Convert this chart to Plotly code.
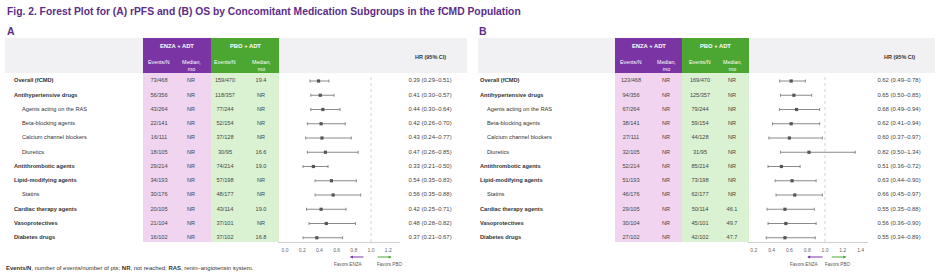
import plotly.graph_objects as go

W, H = 936, 274
FONT = "Liberation Sans"

# ---------------- data ----------------
labels = ["Overall (fCMD)", "Antihypertensive drugs", "Agents acting on the RAS",
          "Beta-blocking agents", "Calcium channel blockers", "Diuretics",
          "Antithrombotic agents", "Lipid-modifying agents", "Statins",
          "Cardiac therapy agents", "Vasoprotectives", "Diabetes drugs"]
indent = [0, 0, 1, 1, 1, 1, 0, 0, 1, 0, 0, 0]

a_enza_events = ["73/468", "56/356", "43/264", "22/141", "16/111", "18/105",
                 "29/214", "34/193", "30/176", "20/105", "21/104", "16/102"]
a_enza_median = ["NR"] * 12
a_pbo_events = ["159/470", "118/357", "77/244", "52/154", "37/128", "30/95",
                "74/214", "57/198", "48/177", "43/114", "37/101", "37/102"]
a_pbo_median = ["19.4", "NR", "NR", "NR", "NR", "16.6", "19.0", "NR", "NR",
                "19.0", "NR", "16.8"]
a_hr = [0.39, 0.41, 0.44, 0.42, 0.43, 0.47, 0.33, 0.54, 0.56, 0.42, 0.48, 0.37]
a_lo = [0.29, 0.30, 0.30, 0.26, 0.24, 0.26, 0.21, 0.35, 0.35, 0.25, 0.28, 0.21]
a_hi = [0.51, 0.57, 0.64, 0.70, 0.77, 0.85, 0.50, 0.83, 0.88, 0.71, 0.82, 0.67]

b_enza_events = ["123/468", "94/356", "67/264", "38/141", "27/111", "32/105",
                 "52/214", "51/193", "46/176", "29/105", "30/104", "27/102"]
b_enza_median = ["NR"] * 12
b_pbo_events = ["169/470", "125/357", "79/244", "59/154", "44/128", "31/95",
                "85/214", "73/198", "62/177", "50/114", "45/101", "42/102"]
b_pbo_median = ["NR", "NR", "NR", "NR", "NR", "NR", "NR", "NR", "NR",
                "46.1", "49.7", "47.7"]
b_hr = [0.62, 0.65, 0.68, 0.62, 0.60, 0.82, 0.51, 0.63, 0.66, 0.55, 0.56, 0.55]
b_lo = [0.49, 0.50, 0.49, 0.41, 0.37, 0.50, 0.36, 0.44, 0.45, 0.35, 0.36, 0.34]
b_hi = [0.78, 0.85, 0.94, 0.94, 0.97, 1.34, 0.72, 0.90, 0.97, 0.88, 0.90, 0.89]

a_ticks = [0.0, 0.2, 0.4, 0.6, 0.8, 1.0, 1.2]
b_ticks = [0.2, 0.4, 0.6, 0.8, 1.0, 1.2, 1.4]

# ---------------- layout helpers ----------------
ROW0, ROWH = 81.0, 14.25
rows = list(range(len(labels)))


def py(p):
    return 1 - p / H


def rowof(p):
    return (p - ROW0) / ROWH


PURPLE = "#7b34a3"
PINK = "#f1d4f0"
GREEN = "#4ca732"
LGREEN = "#daf2d2"
GRAY = "#f1f1f3"
TITLE = "#5c2d87"
TXT = "#333333"

fig = go.Figure()
shapes, annots = [], []


def note(text, xref, x, y, size, color, xanchor="center", **kw):
    d = dict(text=text, xref=xref, yref="paper", x=x, y=y, xanchor=xanchor,
             yanchor="middle", showarrow=False, borderpad=0,
             font=dict(size=size, color=color, family=FONT))
    d.update(kw)
    return d


panels = [
    dict(x0=5, x1=467, lab_x=14, ind_x=22, cols=[159, 191, 225, 261],
         e0=143, e1=211, p1=279, hr_x=430, axis="x", px0=278, px1=400,
         v0=285, unit=86.0, ticks=a_ticks, hr=a_hr, lo=a_lo, hi=a_hi,
         data=[a_enza_events, a_enza_median, a_pbo_events, a_pbo_median],
         letter="A", letter_x=6,
         enza_arrow=(0.755, 0.93), enza_txt=0.74, pbo_arrow=(1.06, 1.24), pbo_txt=1.22),
    dict(x0=478, x1=935, lab_x=480, ind_x=487, cols=[631, 666, 700, 732],
         e0=615, e1=682, p1=749, hr_x=899, axis="x2", px0=748, px1=868,
         v0=825 - 89.0, unit=89.0, ticks=b_ticks, hr=b_hr, lo=b_lo, hi=b_hi,
         data=[b_enza_events, b_enza_median, b_pbo_events, b_pbo_median],
         letter="B", letter_x=478,
         enza_arrow=(0.80, 0.99), enza_txt=0.77, pbo_arrow=(1.06, 1.24), pbo_txt=1.14),
]

for k, P in enumerate(panels):
    # background bands
    for (xa, xb, ya, yb, col) in [
        (P["x0"], P["x1"], 73, 38, GRAY),
        (P["e0"], P["e1"], 73, 38, PURPLE),
        (P["e1"], P["p1"], 73, 38, GREEN),
        (P["e0"], P["e1"], 242, 73, PINK),
        (P["e1"], P["p1"], 242, 73, LGREEN),
    ]:
        shapes.append(dict(type="rect", xref="x3", yref="paper", x0=xa, x1=xb,
                           y0=py(ya), y1=py(yb), fillcolor=col, line_width=0, layer="below"))

    # letters
    annots.append(note("<b>%s</b>" % P["letter"], "x3", P["letter_x"], py(31), 10.5, TITLE,
                       xanchor="left"))
    # headers
    annots.append(note("<b>ENZA + ADT</b>", "x3", (P["e0"] + P["e1"]) / 2, py(45.5), 5.8, "white"))
    annots.append(note("<b>PBO + ADT</b>", "x3", (P["e1"] + P["p1"]) / 2, py(45.5), 5.8, "white"))
    for j, cx in enumerate(P["cols"]):
        if j % 2 == 0:
            annots.append(note("Events/N", "x3", cx, py(62), 5.3, "white"))
        else:
            annots.append(note("Median,<br>mo", "x3", cx, py(65.8), 5.3, "white"))
    annots.append(note("<b>HR (95% CI)</b>", "x3", P["hr_x"], py(57), 5.5, TXT))

    # row labels
    fig.add_trace(go.Scatter(
        x=[P["lab_x"] if not indent[i] else P["ind_x"] for i in rows], y=rows,
        text=[("<b>%s</b>" % labels[i]) if not indent[i] else labels[i] for i in rows],
        mode="text", textposition="middle right", xaxis="x3", yaxis="y",
        textfont=dict(size=5.7, color=TXT, family=FONT), hoverinfo="skip", showlegend=False))
    # table cells
    for j, cx in enumerate(P["cols"]):
        fig.add_trace(go.Scatter(
            x=[cx] * len(rows), y=rows, text=P["data"][j], mode="text",
            textposition="middle center", xaxis="x3", yaxis="y",
            textfont=dict(size=5.6, color="#444444", family=FONT),
            hoverinfo="skip", showlegend=False))
    # HR text
    fig.add_trace(go.Scatter(
        x=[P["hr_x"]] * len(rows), y=rows,
        text=["%.2f (%.2f\u2013%.2f)" % (h, l, u) for h, l, u in zip(P["hr"], P["lo"], P["hi"])],
        mode="text", textposition="middle center", xaxis="x3", yaxis="y",
        textfont=dict(size=5.9, color="#444444", family=FONT),
        hoverinfo="skip", showlegend=False))

    # forest points
    fig.add_trace(go.Scatter(
        x=P["hr"], y=rows, mode="markers", xaxis=P["axis"], yaxis="y",
        marker=dict(symbol="square", size=3.2, color="#555555"),
        error_x=dict(type="data", symmetric=False,
                     array=[u - h for h, u in zip(P["hr"], P["hi"])],
                     arrayminus=[h - l for h, l in zip(P["hr"], P["lo"])],
                     color="#8a8a8a", thickness=1, width=1.5),
        hoverinfo="skip", showlegend=False))

    # reference line at HR = 1
    shapes.append(dict(type="line", xref=P["axis"], yref="paper", x0=1.0, x1=1.0,
                       y0=py(242), y1=py(74), line=dict(color="#c8c8c8", width=0.8, dash="dot")))

    # favors arrows
    ya = rowof(257)
    annots.append(dict(xref=P["axis"], yref="y", x=P["enza_arrow"][0], y=ya,
                       axref=P["axis"], ayref="y", ax=P["enza_arrow"][1], ay=ya,
                       text="", showarrow=True, arrowhead=2, arrowsize=0.6, arrowwidth=1,
                       arrowcolor=PURPLE))
    annots.append(dict(xref=P["axis"], yref="y", x=P["pbo_arrow"][1], y=ya,
                       axref=P["axis"], ayref="y", ax=P["pbo_arrow"][0], ay=ya,
                       text="", showarrow=True, arrowhead=2, arrowsize=0.6, arrowwidth=1,
                       arrowcolor=GREEN))
    annots.append(note("Favors ENZA", P["axis"], P["enza_txt"], py(264.5), 4.6, "#555555"))
    annots.append(note("Favors PBO", P["axis"], P["pbo_txt"], py(264.5), 4.6, "#555555"))

# title
annots.append(note("<b>Fig. 2. Forest Plot for (A) rPFS and (B) OS by Concomitant Medication "
                   "Subgroups in the fCMD Population</b>", "paper", 6 / W, py(12), 10.3, TITLE,
                   xanchor="left"))
# footnote
annots.append(note("<b>Events/N</b>, number of events/number of pts; <b>NR</b>, not reached; "
                   "<b>RAS</b>, renin\u2013angiotensin system.", "paper", 5 / W, py(268), 5.95, TXT,
                   xanchor="left"))


def xaxis_for(P):
    r0 = (P["px0"] - P["v0"]) / P["unit"]
    r1 = (P["px1"] - P["v0"]) / P["unit"]
    return dict(domain=[P["px0"] / W, P["px1"] / W], range=[r0, r1], anchor="free",
                position=py(242), showline=True, linecolor="#d0d0d0", linewidth=0.8,
                showgrid=False, zeroline=False, ticks="", tickvals=P["ticks"],
                ticktext=["%.1f" % t for t in P["ticks"]], ticklabelstandoff=3,
                tickfont=dict(size=5, color="#666666", family=FONT), fixedrange=True)


fig.update_layout(
    width=W, height=H, margin=dict(l=0, r=0, t=0, b=0),
    paper_bgcolor="white", plot_bgcolor="rgba(0,0,0,0)",
    xaxis=xaxis_for(panels[0]),
    xaxis2=xaxis_for(panels[1]),
    xaxis3=dict(domain=[0, 1], range=[0, W], visible=False, anchor="y", fixedrange=True),
    yaxis=dict(domain=[0, 1], range=[rowof(H), rowof(0)], visible=False, fixedrange=True),
    shapes=shapes, annotations=annots, showlegend=False,
    font=dict(family=FONT),
)

fig.write_html("out.html", config={"displayModeBar": False})
